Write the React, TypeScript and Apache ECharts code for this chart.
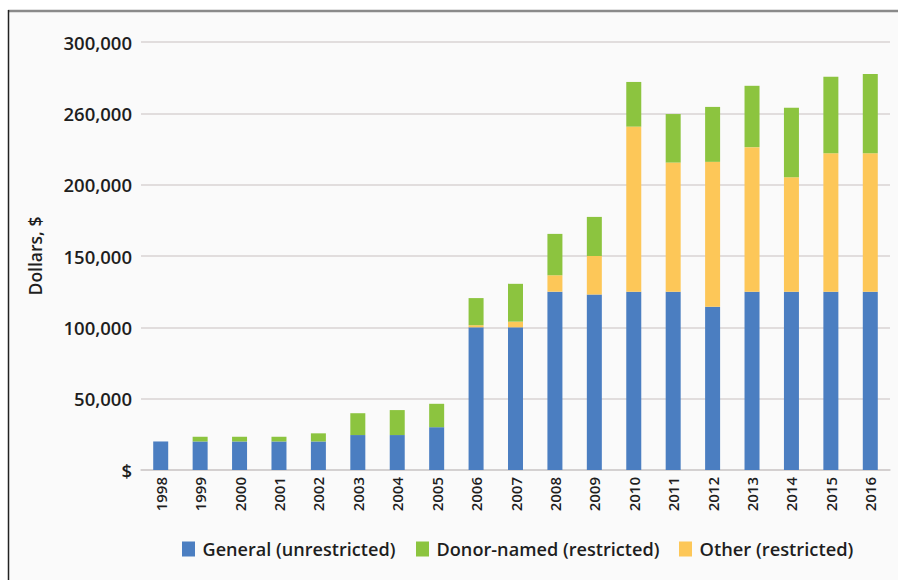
import React, { useEffect, useRef } from "react";
import * as echarts from "echarts";

const years = ["1998","1999","2000","2001","2002","2003","2004","2005","2006","2007","2008","2009","2010","2011","2012","2013","2014","2015","2016"];
const generalValues = [20000,20000,20000,20000,20000,24500,24500,30000,100000,100000,125000,123000,125000,125000,114500,125000,125000,125000,125000];
const otherValues = [0,0,0,0,0,0,0,0,1500,4000,11500,27000,115700,90500,101500,101300,80200,97000,97000];
const donorValues = [0,3300,3300,3300,5700,15300,17500,16400,19000,26500,29000,27400,31300,34000,38500,43000,48800,53700,55600];
const yTickLabels = ["$","50,000","100,000","150,000","200,000","260,000","300,000"];
const legendNames = ["General (unrestricted)","Donor-named (restricted)","Other (restricted)"];
const colors = { general: "#4b7ec1", donor: "#8cc43f", other: "#fdc758" };

// legend layout (custom)
const legendLayout = [
  { key: "general", name: legendNames[0], x: 182, w: 193 },
  { key: "donor", name: legendNames[1], x: 416, w: 223 },
  { key: "other", name: legendNames[2], x: 679, w: 154 },
];
const legendFont = "600 18px 'Open Sans'";

function measure(text: string, font: string): number {
  const c = document.createElement("canvas").getContext("2d");
  if (!c) return text.length * 9;
  c.font = font;
  return c.measureText(text).width;
}

export default function App() {
  const ref = useRef<HTMLDivElement>(null);
  useEffect(() => {
    if (!ref.current) return;
    const chart = echarts.init(ref.current, undefined, { renderer: "svg" });
    const legendGraphics: any[] = [];
    legendLayout.forEach((it) => {
      const mw = measure(it.name, legendFont) || 1;
      legendGraphics.push({
        type: "rect",
        z: 20,
        shape: { x: it.x, y: 541.5, width: 13, height: 15 },
        style: { fill: (colors as any)[it.key] },
      });
      legendGraphics.push({
        type: "text",
        z: 20,
        x: it.x + 20.5,
        y: 549.5,
        scaleX: it.w / mw,
        style: {
          text: it.name,
          fill: "#1e1e1e",
          font: legendFont,
          verticalAlign: "middle",
          align: "left",
        },
      });
    });
    chart.setOption({
      animation: false,
      backgroundColor: "#ffffff",
      graphic: [
        { type: "rect", z: -10, shape: { x: 9, y: 11, width: 889, height: 569 }, style: { fill: "#fafafa" } },
        { type: "line", z: 10, shape: { x1: 8, y1: 11, x2: 898, y2: 11 }, style: { stroke: "#8a8a8a", lineWidth: 2.5 } },
        { type: "line", z: 10, shape: { x1: 8.5, y1: 10, x2: 8.5, y2: 580 }, style: { stroke: "#222222", lineWidth: 1.5 } },
        ...legendGraphics,
      ],
      grid: { left: 141, right: 8, top: 42, bottom: 110, containLabel: false },
      xAxis: {
        type: "category",
        data: years,
        axisTick: { show: false },
        axisLine: { lineStyle: { color: "#cfcccc", width: 1.5 } },
        axisLabel: { rotate: 90, fontFamily: "'Open Sans', sans-serif", fontWeight: 600, fontSize: 15, color: "#1e1e1e", margin: 7 },
      },
      yAxis: {
        type: "value",
        min: 0,
        max: 300000,
        interval: 50000,
        name: "Dollars, $",
        nameLocation: "middle",
        nameRotate: 90,
        nameGap: 97,
        nameTextStyle: { fontFamily: "'Open Sans', sans-serif", fontWeight: 600, fontSize: 17.5, color: "#1e1e1e" },
        axisLine: { show: false },
        axisTick: { show: false },
        splitLine: { lineStyle: { color: "#d8d3d3", width: 1.5 } },
        axisLabel: {
          fontFamily: "'Open Sans', sans-serif",
          fontWeight: 600,
          fontSize: 18.5,
          color: "#1e1e1e",
          margin: 9,
          formatter: (v: number) => yTickLabels[Math.round(v / 50000)] ?? "",
        },
      },
      series: [
        { name: legendNames[0], type: "bar", stack: "total", data: generalValues, barWidth: 15, itemStyle: { color: colors.general } },
        { name: legendNames[2], type: "bar", stack: "total", data: otherValues, barWidth: 15, itemStyle: { color: colors.other } },
        { name: legendNames[1], type: "bar", stack: "total", data: donorValues, barWidth: 15, itemStyle: { color: colors.donor } },
      ],
    });
    return () => chart.dispose();
  }, []);
  return <div ref={ref} style={{ position: "fixed", left: 0, top: 0, width: 898, height: 580 }} />;
}
